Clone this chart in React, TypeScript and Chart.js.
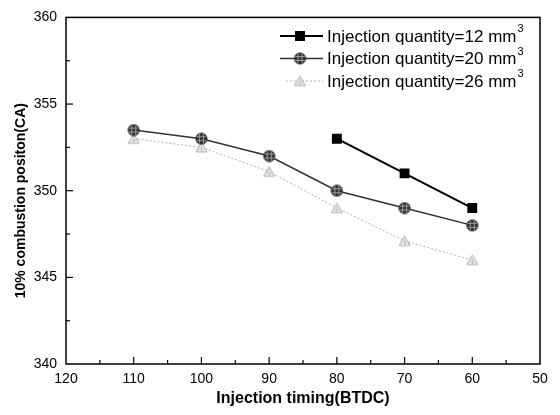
import React, { useEffect, useRef } from "react";
import { Chart, registerables } from "chart.js";

Chart.register(...registerables);

// ---- data ----
const timing = [110, 100, 90, 80, 70, 60];
const q12: (number | null)[] = [null, null, null, 353, 351, 349];
const q20 = [353.5, 353, 352, 350, 349, 348];
const q26 = [353, 352.5, 351.1, 349, 347.1, 346];
const seriesLabels = [
  "Injection quantity=12 mm",
  "Injection quantity=20 mm",
  "Injection quantity=26 mm",
];
const unitSup = "3";
const xTitle = "Injection timing(BTDC)";
const yTitle = "10% combustion positon(CA)";
const xMin = 50;
const xMax = 120;
const xStep = 10;
const yMin = 340;
const yMax = 360;
const yStep = 5;

const FONT = "'Liberation Sans', Arial, Helvetica, sans-serif";

function makeCircle(): HTMLCanvasElement {
  const c = document.createElement("canvas");
  const s = 13;
  c.width = s;
  c.height = s;
  const g = c.getContext("2d")!;
  const m = s / 2;
  g.beginPath();
  g.arc(m, m, 5.6, 0, Math.PI * 2);
  g.fillStyle = "#333";
  g.fill();
  g.save();
  g.clip();
  g.strokeStyle = "#9a9a9a";
  g.lineWidth = 1;
  [m - 2, m + 2].forEach((p) => {
    g.beginPath();
    g.moveTo(p, 0);
    g.lineTo(p, s);
    g.stroke();
    g.beginPath();
    g.moveTo(0, p);
    g.lineTo(s, p);
    g.stroke();
  });
  g.restore();
  g.beginPath();
  g.arc(m, m, 5.6, 0, Math.PI * 2);
  g.strokeStyle = "#222";
  g.lineWidth = 0.8;
  g.stroke();
  return c;
}

function makeTriangle(): HTMLCanvasElement {
  const c = document.createElement("canvas");
  const s = 13;
  c.width = s;
  c.height = s;
  const g = c.getContext("2d")!;
  const m = s / 2;
  g.beginPath();
  g.moveTo(m, m - 5);
  g.lineTo(m - 5.5, m + 4.5);
  g.lineTo(m + 5.5, m + 4.5);
  g.closePath();
  g.fillStyle = "#f2f2f2";
  g.fill();
  g.strokeStyle = "#a8a8a8";
  g.lineWidth = 1;
  g.stroke();
  g.beginPath();
  g.moveTo(m - 2.5, m + 1.5);
  g.lineTo(m + 2.5, m + 1.5);
  g.moveTo(m, m - 2);
  g.lineTo(m, m + 4.5);
  g.strokeStyle = "#bdbdbd";
  g.stroke();
  return c;
}

function pts(ys: (number | null)[]) {
  return timing
    .map((t, i) => ({ x: t, y: ys[i] }))
    .filter((p) => p.y !== null) as { x: number; y: number }[];
}

export default function App() {
  const ref = useRef<HTMLCanvasElement | null>(null);

  useEffect(() => {
    if (!ref.current) return;
    const circle = makeCircle();
    const tri = makeTriangle();

    const styles = [
      { color: "#000", width: 2, dash: [] as number[], marker: "rect" as any },
      { color: "#333", width: 1.5, dash: [] as number[], marker: circle },
      { color: "#b0b0b0", width: 1, dash: [2, 2], marker: tri },
    ];
    const series = [q12, q20, q26];

    const decor = {
      id: "decor",
      afterDraw(chart: any) {
        const ctx = chart.ctx as CanvasRenderingContext2D;
        const { left, right, top, bottom } = chart.chartArea;
        const xs = chart.scales.x;
        const ys = chart.scales.y;
        ctx.save();
        // frame
        ctx.strokeStyle = "#000";
        ctx.lineWidth = 1.5;
        ctx.strokeRect(left, top, right - left, bottom - top);
        // inward ticks
        ctx.lineWidth = 1.2;
        for (let v = xMin + xStep / 2; v < xMax; v += xStep / 2) {
          const px = xs.getPixelForValue(v);
          const len = v % xStep === 0 ? 7 : 4;
          ctx.beginPath();
          ctx.moveTo(px, bottom);
          ctx.lineTo(px, bottom - len);
          ctx.stroke();
        }
        for (let v = yMin + yStep / 2; v < yMax; v += yStep / 2) {
          const py = ys.getPixelForValue(v);
          const len = v % yStep === 0 ? 7 : 4;
          ctx.beginPath();
          ctx.moveTo(left, py);
          ctx.lineTo(left + len, py);
          ctx.stroke();
        }
        // axis titles
        ctx.fillStyle = "#000";
        ctx.font = `bold 16px ${FONT}`;
        ctx.textAlign = "center";
        ctx.textBaseline = "middle";
        ctx.fillText(xTitle, (left + right) / 2, 399);
        ctx.save();
        ctx.translate(21, (top + bottom) / 2 + 10);
        ctx.rotate(-Math.PI / 2);
        ctx.font = `bold 14px ${FONT}`;
        ctx.fillText(yTitle, 0, 0);
        ctx.restore();
        // legend
        const rows = [36, 58.5, 81];
        rows.forEach((ry, i) => {
          const st = styles[i];
          ctx.save();
          ctx.strokeStyle = st.color;
          ctx.lineWidth = st.width;
          ctx.setLineDash(st.dash);
          ctx.beginPath();
          ctx.moveTo(i === 2 ? 286 : 280, ry);
          ctx.lineTo(323, ry);
          ctx.stroke();
          ctx.restore();
          const mx = 300;
          if (i === 0) {
            ctx.fillStyle = "#000";
            ctx.fillRect(mx - 5, ry - 5, 10, 10);
          } else {
            const img = st.marker as HTMLCanvasElement;
            ctx.drawImage(img, mx - img.width / 2, ry - img.height / 2);
          }
          ctx.fillStyle = "#000";
          ctx.font = `17px ${FONT}`;
          ctx.textAlign = "left";
          ctx.textBaseline = "middle";
          ctx.fillText(seriesLabels[i], 327, ry + 1);
          const w = ctx.measureText(seriesLabels[i]).width;
          ctx.font = `11px ${FONT}`;
          ctx.fillText(unitSup, 327 + w + 1, ry - 7);
        });
        ctx.restore();
      },
    };

    const chart = new Chart(ref.current, {
      type: "line",
      data: {
        datasets: series.map((s, i) => ({
          label: seriesLabels[i],
          data: pts(s),
          borderColor: styles[i].color,
          borderWidth: styles[i].width,
          borderDash: styles[i].dash,
          backgroundColor: i === 0 ? "#000" : "#fff",
          pointStyle: styles[i].marker,
          pointRadius: i === 0 ? 7 : 6,
          pointBorderWidth: 0,
          pointBackgroundColor: "#000",
          fill: false,
          tension: 0,
        })),
      },
      options: {
        responsive: false,
        animation: false,
        devicePixelRatio: 1,
        layout: { padding: { top: 13, right: 20, left: 0, bottom: 0 } },
        plugins: {
          legend: { display: false },
          tooltip: { enabled: false },
        },
        scales: {
          x: {
            type: "linear",
            reverse: true,
            min: xMin,
            max: xMax,
            ticks: {
              stepSize: xStep,
              color: "#000",
              font: { family: FONT, size: 14 },
              padding: 7,
              maxRotation: 0,
            },
            grid: { display: false, drawTicks: false },
            border: { display: false },
            afterFit: (s: any) => {
              s.height = 51;
            },
          },
          y: {
            type: "linear",
            min: yMin,
            max: yMax,
            ticks: {
              stepSize: yStep,
              color: "#000",
              font: { family: FONT, size: 14 },
              padding: 9,
            },
            grid: { display: false, drawTicks: false },
            border: { display: false },
            afterFit: (s: any) => {
              s.width = 66;
            },
          },
        },
      },
      plugins: [decor],
    } as any);

    return () => chart.destroy();
  }, []);

  return (
    <div style={{ position: "fixed", left: 0, top: 0, width: 560, height: 415, background: "#fff" }}>
      <canvas ref={ref} width={560} height={415} style={{ width: 560, height: 415, display: "block" }} />
    </div>
  );
}
